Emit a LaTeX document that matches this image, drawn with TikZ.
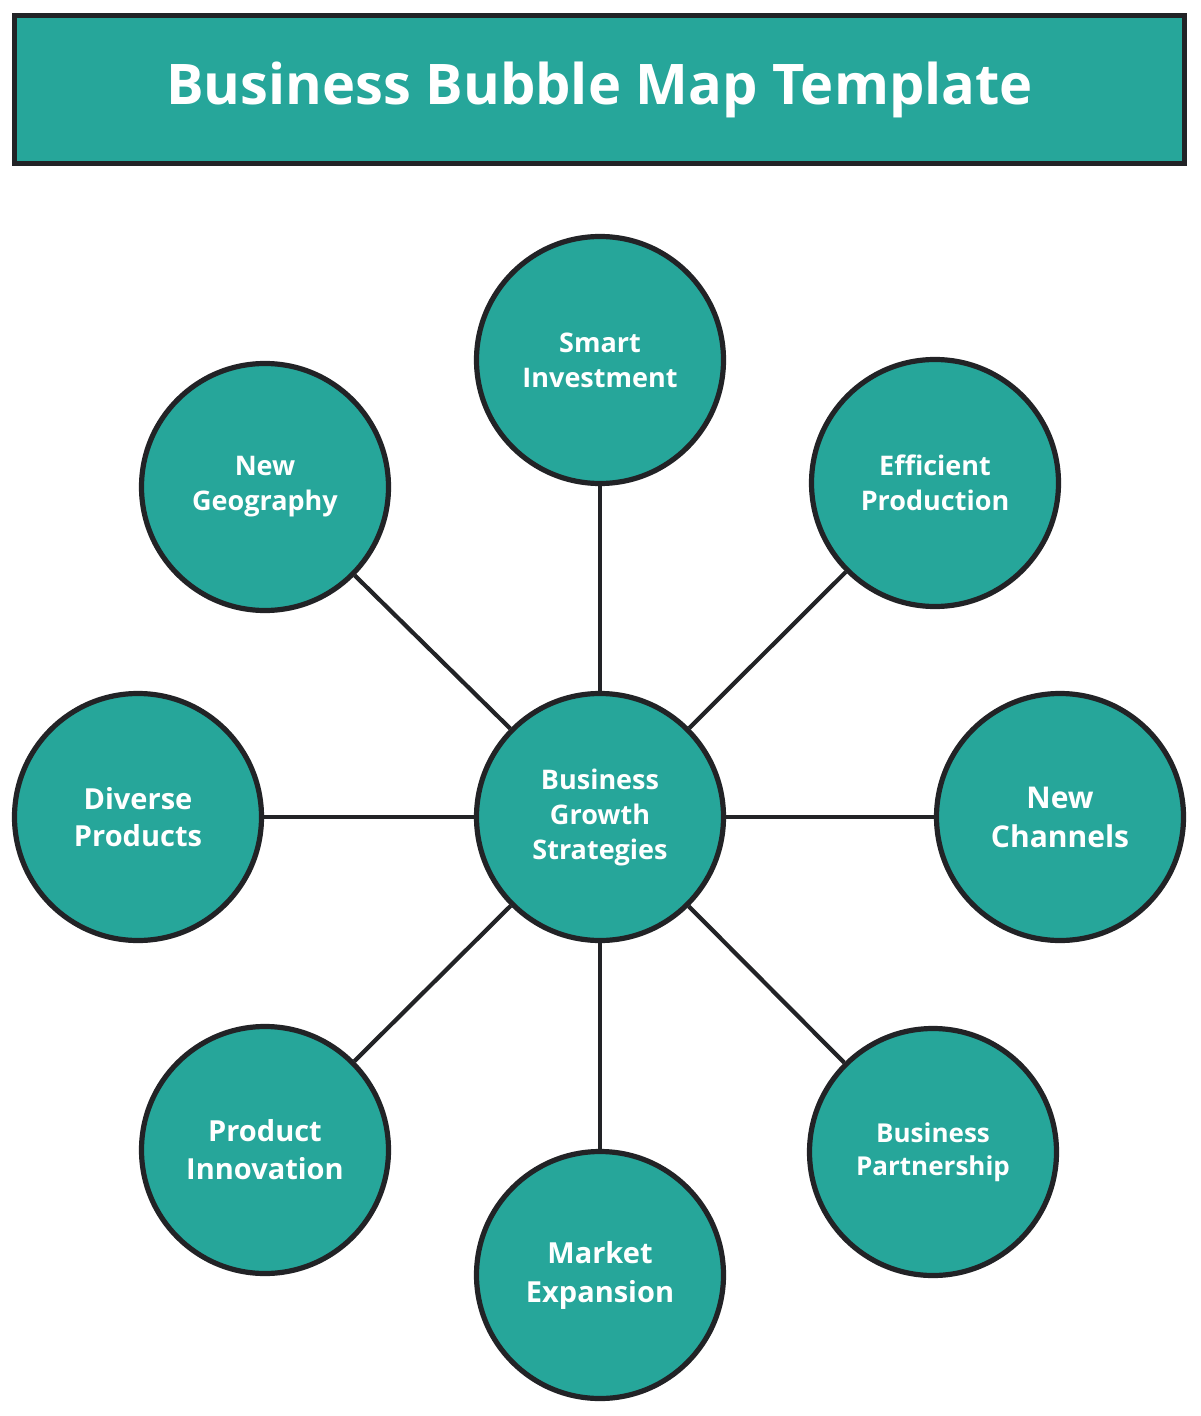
\documentclass[tikz,border=0pt]{standalone}
\usepackage{fontspec}
\setmainfont{Open Sans}
\usetikzlibrary{backgrounds}
\definecolor{teal1}{HTML}{26A69A}
\definecolor{ink}{HTML}{222326}
\tikzset{
  bubble/.style={circle, draw=ink, line width=2.6pt, fill=teal1, minimum size=123.5pt, inner sep=0pt, text=white, align=center, font=\bfseries\fontsize{13.5}{17.5}\selectfont},
  link/.style={draw=ink, line width=2.1pt},
  titlebox/.style={draw=ink, line width=2.6pt, fill=teal1, text=white, font=\bfseries\fontsize{28}{34}\selectfont}
}
\begin{document}
\begin{tikzpicture}[x=0.5pt,y=-0.5pt]
\useasboundingbox (0,0) rectangle (1200,1416);
\node[titlebox, minimum width=585pt, minimum height=74pt, inner sep=0pt] (title) at (599.5,89.5) {Business Bubble Map Template};
\node[bubble] (c) at (600,817) {Business\\Growth\\Strategies};
\node[bubble] (si) at (600,360) {Smart\\Investment};
\node[bubble] (ep) at (935,483) {Efficient\\Production};
\node[bubble, font=\bfseries\fontsize{15}{19.5}\selectfont] (nc) at (1060,817) {New\\Channels};
\node[bubble, font=\bfseries\fontsize{13}{16.5}\selectfont] (bp) at (933,1152) {Business\\Partnership};
\node[bubble, font=\bfseries\fontsize{14.5}{19.5}\selectfont] (me) at (600,1275) {Market\\Expansion};
\node[bubble, font=\bfseries\fontsize{14.5}{19}\selectfont] (pi) at (265,1150) {Product\\Innovation};
\node[bubble, font=\bfseries\fontsize{14.5}{18.5}\selectfont] (dp) at (138,817) {Diverse\\Products};
\node[bubble] (ng) at (265,487) {New\\Geography};
\begin{scope}[on background layer]
\foreach \n in {si,ep,nc,bp,me,pi,dp,ng} \draw[link] (c) -- (\n);
\end{scope}
\end{tikzpicture}
\end{document}
